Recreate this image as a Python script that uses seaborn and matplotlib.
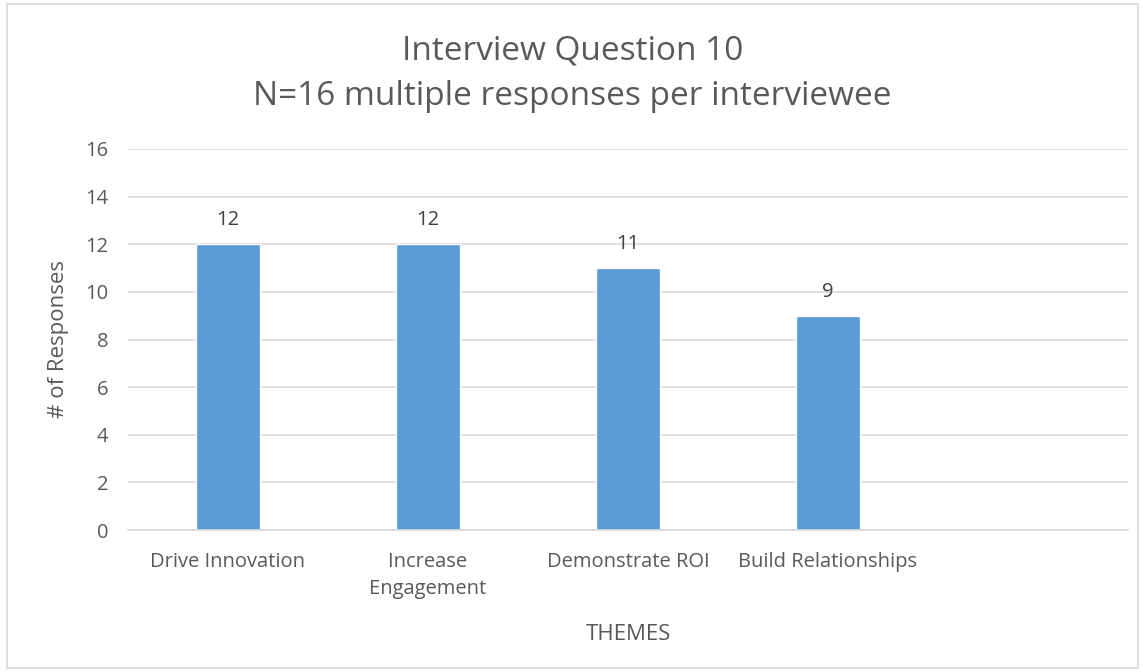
import matplotlib
matplotlib.use("Agg")
import matplotlib.pyplot as plt
import seaborn as sns
import pandas as pd
from matplotlib.patches import Rectangle

categories = ["Drive Innovation", "Increase\nEngagement", "Demonstrate ROI", "Build Relationships"]
values = [12, 12, 11, 9]
yticks = [0, 2, 4, 6, 8, 10, 12, 14, 16]
title = "Interview Question 10\nN=16 multiple responses per interviewee"

sns.set_theme(style="white")
plt.rcParams['font.family'] = ['Open Sans', 'DejaVu Sans']
txt = "#595959"

fig = plt.figure(figsize=(11.45, 6.72), dpi=100)
ax = fig.add_axes([128/1145, 1-530/672, 1000/1145, (530-149)/672])
df = pd.DataFrame({"cat": categories, "val": values})
sns.barplot(data=df, x="cat", y="val", color="#5B9BD5", width=0.32, ax=ax, saturation=1)
ax.set_xlim(-0.5, 4.5)
ax.set_ylim(0, 16)
ax.set_yticks(yticks)
ax.grid(axis="y", color="#D9D9D9", linewidth=1.2)
ax.set_axisbelow(True)
for s in ["top", "right", "left"]:
    ax.spines[s].set_visible(False)
ax.spines["bottom"].set_color("#D9D9D9")
ax.spines["bottom"].set_linewidth(1.2)
ax.tick_params(axis="both", length=0, labelsize=14.5, colors=txt)
ax.tick_params(axis="y", pad=14)
ax.tick_params(axis="x", pad=16)
for lbl in ax.get_xticklabels():
    lbl.set_linespacing(1.45)
for c in ax.containers:
    ax.bar_label(c, labels=[str(v) for v in values], padding=10, fontsize=14.5, color="#404040")
ax.set_xlabel("THEMES", fontsize=16, color=txt, labelpad=18)
ax.set_ylabel("# of Responses", fontsize=16, color=txt, labelpad=12)
fig.text(0.5, 1-74/672, title, ha="center", va="center", fontsize=24, color=txt, linespacing=1.5)
fig.patches.append(Rectangle((7/1145, 0.006), 1-14/1145, 0.988, transform=fig.transFigure,
                             fill=False, edgecolor="#D9D9D9", linewidth=1.2))
fig.savefig("out.png", dpi=100)
